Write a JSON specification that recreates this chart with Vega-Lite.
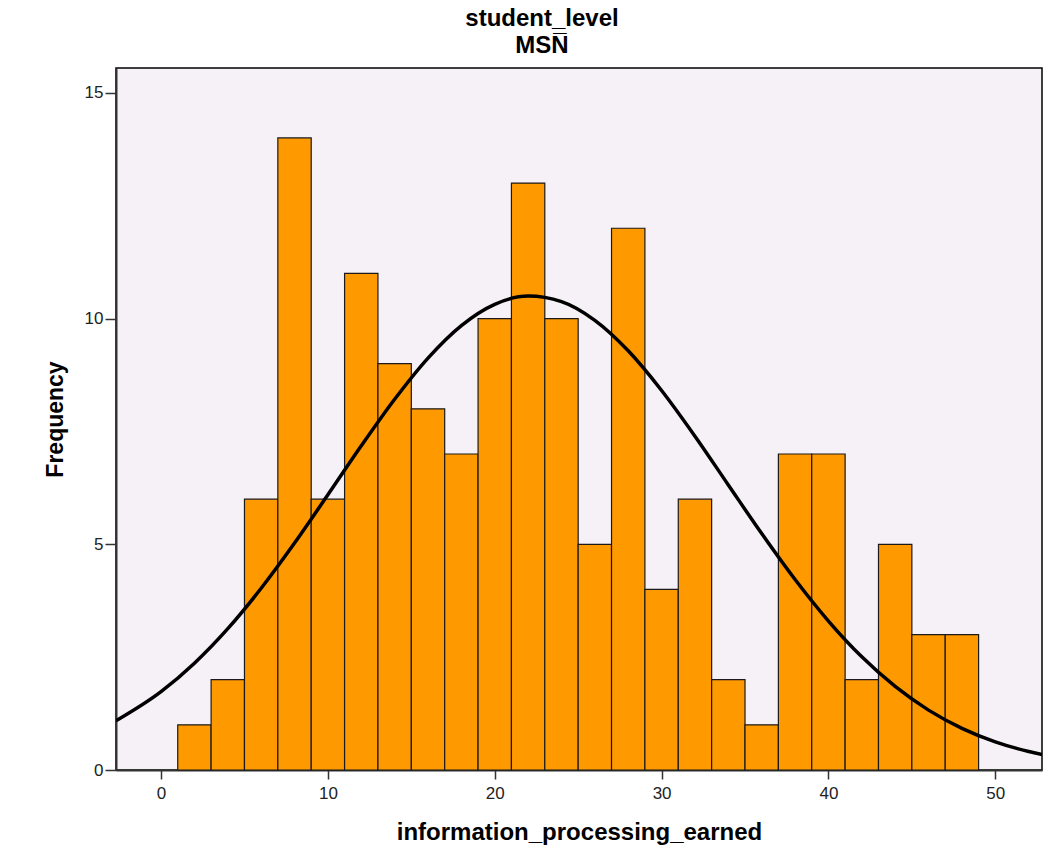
{
  "$schema": "https://vega.github.io/schema/vega-lite/v6.json",
  "width": 926,
  "height": 702,
  "autosize": {"type": "none"},
  "padding": {"left": 116, "top": 68, "right": 8, "bottom": 97},
  "background": "#ffffff",
  "title": {
    "text": ["student_level", "MSN\u0305"],
    "anchor": "middle",
    "dx": -37,
    "font": "Liberation Sans",
    "fontSize": 24,
    "fontWeight": "bold",
    "color": "#000000",
    "lineHeight": 27,
    "offset": 10
  },
  "config": {
    "view": {"fill": "#F6F1F6", "stroke": "#000000", "strokeWidth": 1.5},
    "axis": {
      "labelFont": "Liberation Sans",
      "labelFontSize": 17,
      "labelColor": "#222222",
      "titleFont": "Liberation Sans",
      "titleFontWeight": "bold",
      "titleColor": "#000000",
      "tickColor": "#333333",
      "tickWidth": 1.5,
      "domainColor": "#333333",
      "domainWidth": 2,
      "grid": false
    }
  },
  "datasets": {
    "bins": [
      {"start": 1, "end": 3, "count": 1},
      {"start": 3, "end": 5, "count": 2},
      {"start": 5, "end": 7, "count": 6},
      {"start": 7, "end": 9, "count": 14},
      {"start": 9, "end": 11, "count": 6},
      {"start": 11, "end": 13, "count": 11},
      {"start": 13, "end": 15, "count": 9},
      {"start": 15, "end": 17, "count": 8},
      {"start": 17, "end": 19, "count": 7},
      {"start": 19, "end": 21, "count": 10},
      {"start": 21, "end": 23, "count": 13},
      {"start": 23, "end": 25, "count": 10},
      {"start": 25, "end": 27, "count": 5},
      {"start": 27, "end": 29, "count": 12},
      {"start": 29, "end": 31, "count": 4},
      {"start": 31, "end": 33, "count": 6},
      {"start": 33, "end": 35, "count": 2},
      {"start": 35, "end": 37, "count": 1},
      {"start": 37, "end": 39, "count": 7},
      {"start": 39, "end": 41, "count": 7},
      {"start": 41, "end": 43, "count": 2},
      {"start": 43, "end": 45, "count": 5},
      {"start": 45, "end": 47, "count": 3},
      {"start": 47, "end": 49, "count": 3}
    ],
    "curve": [
      {"x": -2.7, "y": 1.091},
      {"x": 0, "y": 1.736},
      {"x": 2, "y": 2.366},
      {"x": 4, "y": 3.131},
      {"x": 6, "y": 4.026},
      {"x": 8, "y": 5.027},
      {"x": 10, "y": 6.096},
      {"x": 12, "y": 7.181},
      {"x": 14, "y": 8.213},
      {"x": 16, "y": 9.125},
      {"x": 18, "y": 9.845},
      {"x": 20, "y": 10.316},
      {"x": 22, "y": 10.498},
      {"x": 24, "y": 10.376},
      {"x": 26, "y": 9.961},
      {"x": 28, "y": 9.286},
      {"x": 30, "y": 8.407},
      {"x": 32, "y": 7.394},
      {"x": 34, "y": 6.314},
      {"x": 36, "y": 5.237},
      {"x": 38, "y": 4.219},
      {"x": 40, "y": 3.300},
      {"x": 42, "y": 2.507},
      {"x": 44, "y": 1.851},
      {"x": 46, "y": 1.326},
      {"x": 48, "y": 0.923},
      {"x": 50, "y": 0.624},
      {"x": 52, "y": 0.410},
      {"x": 52.8, "y": 0.343}
    ]
  },
  "layer": [
    {
      "data": {"name": "bins"},
      "mark": {"type": "rect", "fill": "#FF9900", "stroke": "#1a1a1a", "strokeWidth": 1.2},
      "encoding": {
        "x": {
          "field": "start",
          "type": "quantitative",
          "scale": {"domain": [-2.7, 52.8], "nice": false, "zero": false},
          "axis": {
            "values": [0, 10, 20, 30, 40, 50],
            "title": "information_processing_earned",
            "titleFontSize": 24,
            "tickSize": 9,
            "labelPadding": 6,
            "titleX": 463,
            "titleY": 62,
            "titleBaseline": "middle"
          }
        },
        "x2": {"field": "end"},
        "y": {
          "field": "count",
          "type": "quantitative",
          "scale": {"domain": [0, 15.55], "nice": false},
          "axis": {
            "values": [0, 5, 10, 15],
            "title": "Frequency",
            "titleFontSize": 23,
            "tickSize": 11,
            "labelPadding": 2,
            "titleX": -61,
            "titleY": 351,
            "titleAngle": -90,
            "titleAlign": "center",
            "titleBaseline": "middle"
          }
        },
        "y2": {"datum": 0}
      }
    },
    {
      "data": {"name": "curve"},
      "mark": {"type": "line", "color": "#000000", "strokeWidth": 3.5, "interpolate": "monotone", "clip": true},
      "encoding": {
        "x": {"field": "x", "type": "quantitative"},
        "y": {"field": "y", "type": "quantitative"}
      }
    }
  ]
}
